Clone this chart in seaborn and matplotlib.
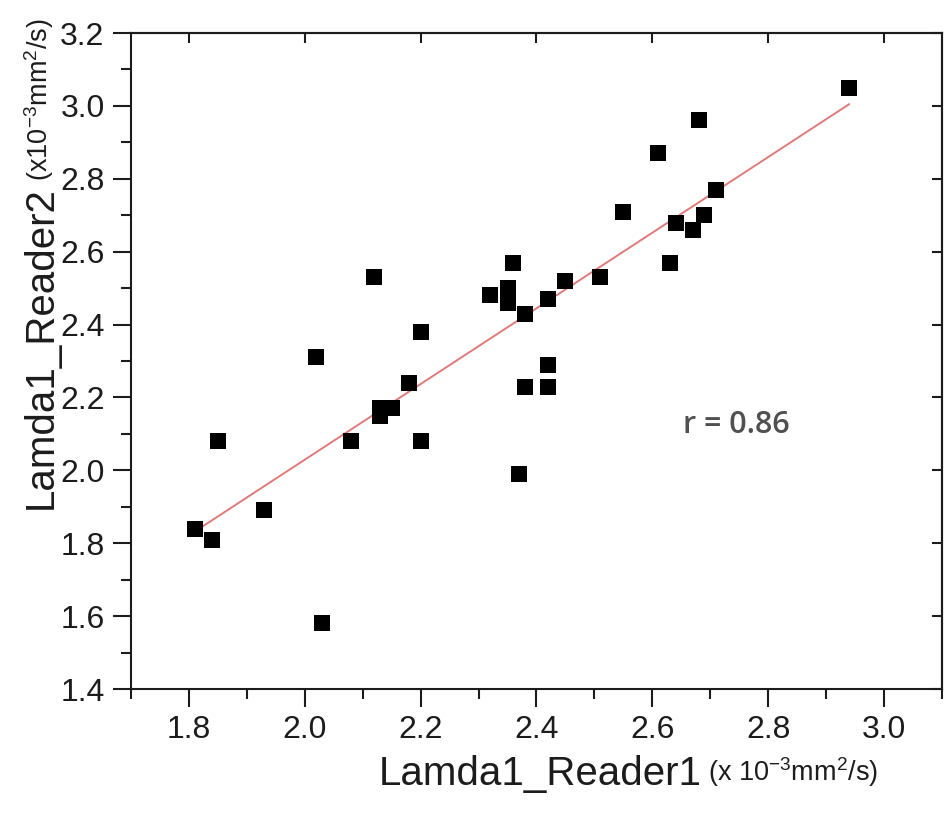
import matplotlib
matplotlib.use("Agg")
import matplotlib.pyplot as plt
import pandas as pd
import seaborn as sns
from matplotlib.ticker import FormatStrFormatter, MultipleLocator

# values (x10^-3 mm^2/s)
reader1 = [1.81, 1.84, 1.85, 1.93, 2.03, 2.02, 2.08, 2.12, 2.13, 2.13, 2.15,
           2.18, 2.20, 2.20, 2.32, 2.35, 2.35, 2.36, 2.37, 2.38, 2.38, 2.42,
           2.42, 2.42, 2.45, 2.51, 2.55, 2.61, 2.63, 2.64, 2.67, 2.68, 2.69,
           2.71, 2.94]
reader2 = [1.84, 1.81, 2.08, 1.89, 1.58, 2.31, 2.08, 2.53, 2.17, 2.15, 2.17,
           2.24, 2.38, 2.08, 2.48, 2.50, 2.46, 2.57, 1.99, 2.43, 2.23, 2.47,
           2.29, 2.23, 2.52, 2.53, 2.71, 2.87, 2.57, 2.68, 2.66, 2.96, 2.70,
           2.77, 3.05]
x_ticks = [1.8, 2.0, 2.2, 2.4, 2.6, 2.8, 3.0]
y_ticks = [1.4, 1.6, 1.8, 2.0, 2.2, 2.4, 2.6, 2.8, 3.0, 3.2]
x_label = "Lamda1_Reader1"
y_label = "Lamda1_Reader2"
x_unit = r"(x 10$^{\mathregular{-3}}$mm$^{\mathregular{2}}$/s)"
y_unit = r"(x10$^{\mathregular{-3}}$mm$^{\mathregular{2}}$/s)"
r_text = "r = 0.86"

sns.set_style("ticks")
plt.rcParams["font.family"] = ["Liberation Sans", "DejaVu Sans"]
plt.rcParams["mathtext.fontset"] = "custom"
plt.rcParams["mathtext.rm"] = "Liberation Sans"

INK = "#1c1c1c"
df = pd.DataFrame({"reader1": reader1, "reader2": reader2})

fig = plt.figure(figsize=(9.45, 8.15), dpi=100)
ax = fig.add_axes([0.1386, 0.1546, 0.8582, 0.8049])

sns.regplot(
    data=df, x="reader1", y="reader2", ci=None, ax=ax, marker="s",
    scatter_kws=dict(s=135, color="black", linewidths=0, alpha=1, zorder=3),
    line_kws=dict(color="#e07a7a", lw=1.4, zorder=2),
)

ax.set_xlim(1.7, 3.1)
ax.set_ylim(1.4, 3.2)
ax.set_xticks(x_ticks)
ax.set_yticks(y_ticks)
ax.xaxis.set_minor_locator(MultipleLocator(0.1))
ax.yaxis.set_minor_locator(MultipleLocator(0.1))
ax.xaxis.set_major_formatter(FormatStrFormatter("%.1f"))
ax.yaxis.set_major_formatter(FormatStrFormatter("%.1f"))
ax.tick_params(which="both", bottom=True, left=True, top=False, right=False)
ax.tick_params(which="major", direction="out", length=13, width=1.5,
               color=INK, labelsize=23, labelcolor=INK, pad=6)
ax.tick_params(which="minor", direction="out", length=7, width=1.5, color=INK)
for side in ["left", "right", "top", "bottom"]:
    ax.spines[side].set_visible(True)
    ax.spines[side].set_linewidth(1.5)
    ax.spines[side].set_color(INK)

# inward ticks on the opposite sides
top = ax.secondary_xaxis("top")
top.set_xticks(x_ticks)
top.tick_params(which="major", top=True, direction="in", length=7, width=1.5,
                color=INK, labeltop=False)
top.spines["top"].set_linewidth(1.5)
top.spines["top"].set_color(INK)
right = ax.secondary_yaxis("right")
right.set_yticks(y_ticks)
right.tick_params(which="major", right=True, direction="in", length=7, width=1.5,
                  color=INK, labelright=False)
right.spines["right"].set_linewidth(1.5)
right.spines["right"].set_color(INK)

ax.set_xlabel(x_label, fontsize=29, color=INK)
ax.xaxis.set_label_coords(0.505, -0.10)
ax.set_ylabel(y_label, fontsize=29, color=INK)
ax.yaxis.set_label_coords(-0.088, 0.52)

ax.annotate(x_unit, xy=(1, 0), xycoords=ax.xaxis.label, xytext=(4, 2.5),
            textcoords="offset points", ha="left", va="bottom",
            fontsize=19.5, color=INK)
ax.annotate(y_unit, xy=(1, 1), xycoords=ax.yaxis.label, xytext=(-2.5, 4),
            textcoords="offset points", ha="left", va="bottom",
            rotation=90, rotation_mode="anchor", fontsize=19.5, color=INK)

ax.text(2.745, 2.124, r_text, ha="center", va="center", fontsize=22,
        family=["Open Sans", "DejaVu Sans"], fontweight="semibold",
        color="#505050")

fig.savefig("out.png", dpi=100)
